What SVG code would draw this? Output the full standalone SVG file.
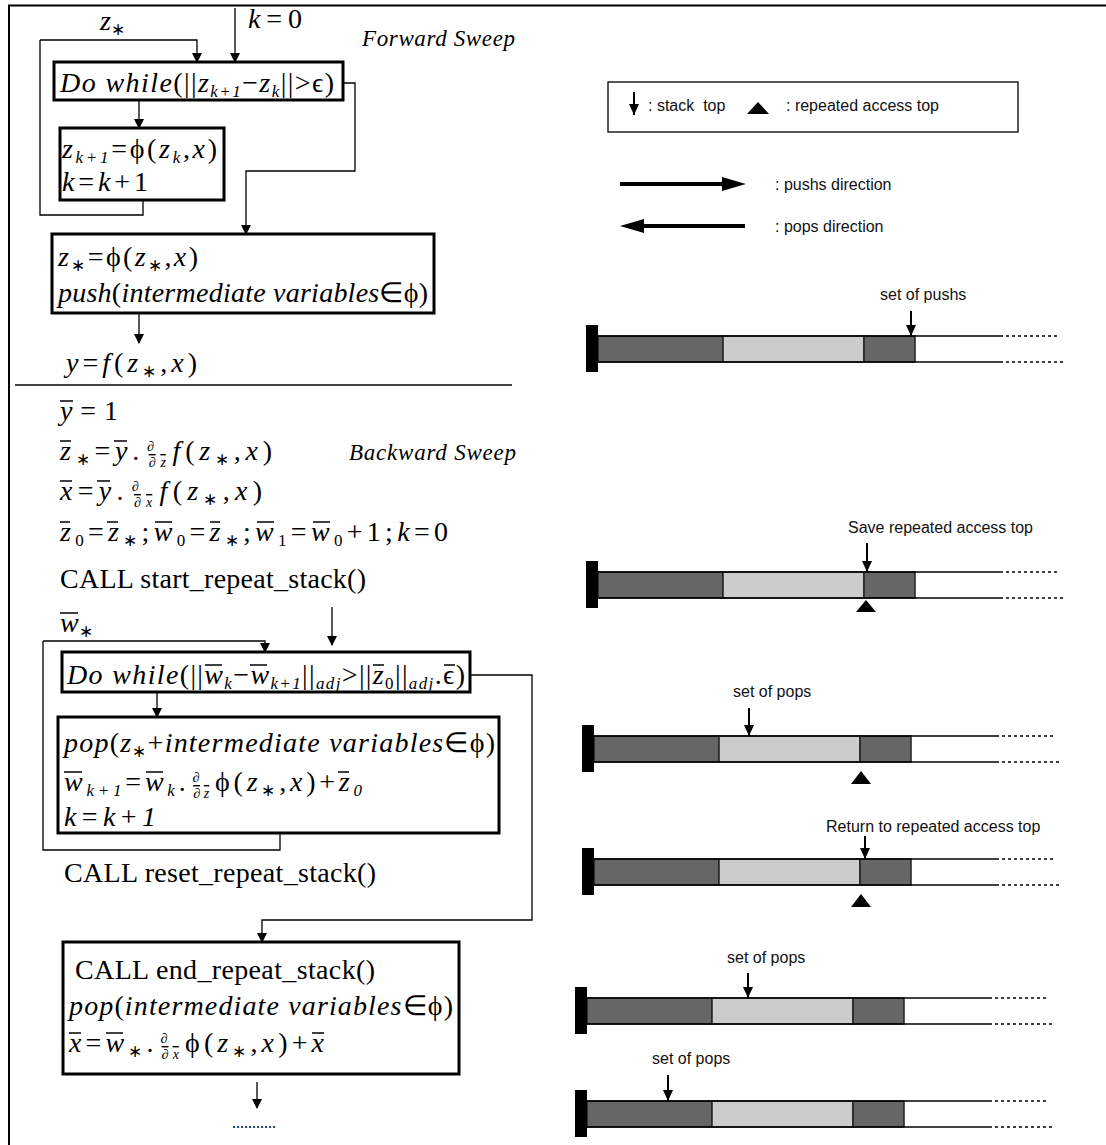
<svg xmlns="http://www.w3.org/2000/svg" xmlns:xlink="http://www.w3.org/1999/xlink" width="1106" height="1145" viewBox="0 0 1106 1145">
<style>
.m{font-family:"Liberation Serif",serif;font-style:italic;font-size:28px;fill:#000}
.u{font-style:normal}
.sb{font-size:17px}
.fr{font-size:14px}
.r{font-family:"Liberation Serif",serif;font-size:28px;fill:#000}
.sw{font-family:"Liberation Serif",serif;font-style:italic;font-size:23px}
.s{font-family:"Liberation Sans",Arial,sans-serif;font-size:16px;fill:#111}
.fb{text-decoration:overline}
.ol{stroke:#000;stroke-width:1.5}
.box{fill:#fff;stroke:#000;stroke-width:3}
.ln{fill:none;stroke:#000;stroke-width:1.3}
.ar{fill:none;stroke:#000;stroke-width:1.3;marker-end:url(#ah)}
.sa{fill:none;stroke:#000;stroke-width:2;marker-end:url(#sah)}
.dk{fill:#666;stroke:#222;stroke-width:1.5}
.lt{fill:#ccc;stroke:#222;stroke-width:1.5}
.bl{stroke:#000;stroke-width:1.5}
.dt{stroke:#000;stroke-width:1.5;stroke-dasharray:3 3}
</style>
<defs>
<marker id="ah" markerUnits="userSpaceOnUse" markerWidth="10" markerHeight="12" refX="9" refY="5" orient="auto"><path d="M0,0 L10,5 L0,10 Z" fill="#000"/></marker>
<marker id="sah" markerUnits="userSpaceOnUse" markerWidth="12" markerHeight="12" refX="11" refY="5" orient="auto"><path d="M0,0 L11,5 L0,10 Z" fill="#000"/></marker>
<marker id="bah" markerUnits="userSpaceOnUse" markerWidth="24" markerHeight="14" refX="2" refY="7" orient="auto"><path d="M0,0 L24,7 L0,14 Z" fill="#000"/></marker>
<g id="stk">
<rect class="dk" x="0" y="0" width="125" height="26"/>
<rect class="lt" x="125" y="0" width="141" height="26"/>
<rect class="dk" x="266" y="0" width="51" height="26"/>
<line class="bl" x1="0" y1="0" x2="405" y2="0"/>
<line class="bl" x1="0" y1="26" x2="405" y2="26"/>
<line class="dt" x1="408" y1="0" x2="462" y2="0"/>
<line class="dt" x1="408" y1="26" x2="466" y2="26"/>
<rect x="-12" y="-11" width="12" height="47" fill="#000"/>
</g>
</defs>
<rect width="1106" height="1145" fill="#fff"/>
<path d="M9,1145 V5.5 H1106" fill="none" stroke="#000" stroke-width="2"/>
<line x1="15" y1="385" x2="512" y2="385" stroke="#000" stroke-width="1.5"/>

<g id="connectors">
<path class="ar" d="M235,8 V62"/>
<path class="ar" d="M40,40 H197 V62"/>
<path class="ln" d="M143,200 V215 H40 V40"/>
<path class="ar" d="M139,100 V128"/>
<path class="ar" d="M343,83 H355 V171 H246 V234"/>
<path class="ar" d="M139,313 V343"/>
<path class="ar" d="M332,607 V645"/>
<path class="ar" d="M43,641 H265 V652"/>
<path class="ln" d="M280,833 V850 H43 V641"/>
<path class="ar" d="M157,692 V717"/>
<path class="ar" d="M470,675 H532 V920 H262 V942"/>
<path class="ar" d="M257,1082 V1108"/>
</g>

<g id="fwd-labels">
<text class="m" x="100" y="30">z<tspan class="sb u" dy="5">∗</tspan></text>
<text class="m" x="248" y="28" textLength="54">k<tspan class="u">=0</tspan></text>
<text class="sw" x="362" y="46" textLength="153">Forward Sweep</text>
</g>

<g id="n-dowhile1">
<rect class="box" x="54" y="62" width="289" height="38"/>
<text class="m" x="60" y="92" textLength="274">Do while<tspan class="u">(||</tspan>z<tspan class="sb" dy="5">k+1</tspan><tspan class="u" dy="-5">−</tspan>z<tspan class="sb" dy="5">k</tspan><tspan class="u" dy="-5">||&gt;ϵ)</tspan></text>
</g>

<g id="n-iter">
<rect class="box" x="60" y="128" width="164" height="72"/>
<text class="m" x="62" y="158" textLength="155">z<tspan class="sb" dy="5">k+1</tspan><tspan class="u" dy="-5">=ϕ(</tspan>z<tspan class="sb" dy="5">k</tspan><tspan class="u" dy="-5">,</tspan>x<tspan class="u">)</tspan></text>
<text class="m" x="62" y="191" textLength="86">k<tspan class="u">=</tspan>k<tspan class="u">+1</tspan></text>
</g>

<g id="n-push">
<rect class="box" x="52" y="234" width="382" height="79"/>
<text class="m" x="58" y="266" textLength="140">z<tspan class="sb u" dy="5">∗</tspan><tspan class="u" dy="-5">=ϕ(</tspan>z<tspan class="sb u" dy="5">∗</tspan><tspan class="u" dy="-5">,</tspan>x<tspan class="u">)</tspan></text>
<text class="m" x="58" y="302" textLength="370">push<tspan class="u">(</tspan>intermediate variables<tspan class="u">∈ϕ)</tspan></text>
</g>

<g id="n-y">
<text class="m" x="66" y="372" textLength="131">y<tspan class="u">=</tspan>f<tspan class="u">(</tspan>z<tspan class="sb u" dy="5">∗</tspan><tspan class="u" dy="-5">,</tspan>x<tspan class="u">)</tspan></text>
</g>

<g id="bwd-init">
<text class="m" x="60" y="420" textLength="58">y<tspan class="u">=1</tspan></text>
<text class="m" x="60" y="460" textLength="212">z<tspan class="sb u" dy="5">∗</tspan><tspan class="u" dy="-5">=</tspan>y<tspan class="u">.</tspan><tspan class="fr" dx="3" dy="-9">∂</tspan><tspan class="fr fb" dx="-10" dy="16">∂z</tspan><tspan dx="2" dy="-7">f</tspan><tspan class="u">(</tspan>z<tspan class="sb u" dy="5">∗</tspan><tspan class="u" dy="-5">,</tspan>x<tspan class="u">)</tspan></text>
<text class="sw" x="349" y="460" textLength="167">Backward Sweep</text>
<text class="m" x="60" y="500" textLength="202">x<tspan class="u">=</tspan>y<tspan class="u">.</tspan><tspan class="fr" dx="3" dy="-9">∂</tspan><tspan class="fr fb" dx="-10" dy="16">∂x</tspan><tspan dx="2" dy="-7">f</tspan><tspan class="u">(</tspan>z<tspan class="sb u" dy="5">∗</tspan><tspan class="u" dy="-5">,</tspan>x<tspan class="u">)</tspan></text>
<text class="m" x="60" y="541" textLength="388">z<tspan class="sb u" dy="5">0</tspan><tspan class="u" dy="-5">=</tspan>z<tspan class="sb u" dy="5">∗</tspan><tspan class="u" dy="-5">;</tspan>w<tspan class="sb u" dy="5">0</tspan><tspan class="u" dy="-5">=</tspan>z<tspan class="sb u" dy="5">∗</tspan><tspan class="u" dy="-5">;</tspan>w<tspan class="sb u" dy="5">1</tspan><tspan class="u" dy="-5">=</tspan>w<tspan class="sb u" dy="5">0</tspan><tspan class="u" dy="-5">+1;</tspan>k<tspan class="u">=0</tspan></text>
<text class="r" x="60" y="588" textLength="306">CALL start_repeat_stack()</text>
<text class="m" x="60" y="632">w<tspan class="sb u" dy="5">∗</tspan></text>
<g id="overlines-init">
<line class="ol" x1="60" y1="401" x2="73" y2="401"/>
<line class="ol" x1="60" y1="441" x2="71" y2="441"/>
<line class="ol" x1="114" y1="441" x2="127" y2="441"/>
<line class="ol" x1="60" y1="481" x2="72" y2="481"/>
<line class="ol" x1="97" y1="481" x2="110" y2="481"/>
<line class="ol" x1="60" y1="522" x2="70" y2="522"/>
<line class="ol" x1="107" y1="522" x2="118" y2="522"/>
<line class="ol" x1="155" y1="522" x2="172" y2="522"/>
<line class="ol" x1="210" y1="522" x2="220" y2="522"/>
<line class="ol" x1="257" y1="522" x2="274" y2="522"/>
<line class="ol" x1="313" y1="522" x2="330" y2="522"/>
<line class="ol" x1="60" y1="613" x2="78" y2="613"/>
</g>
</g>

<g id="n-dowhile2">
<rect class="box" x="62" y="652" width="408" height="40"/>
<text class="m" x="67" y="684" textLength="398">Do while<tspan class="u">(||</tspan>w<tspan class="sb" dy="5">k</tspan><tspan class="u" dy="-5">−</tspan>w<tspan class="sb" dy="5">k+1</tspan><tspan class="u" dy="-5">||</tspan><tspan class="sb" dy="5">adj</tspan><tspan class="u" dy="-5">&gt;||</tspan>z<tspan class="sb u" dy="5">0</tspan><tspan class="u" dy="-5">||</tspan><tspan class="sb" dy="5">adj</tspan><tspan class="u" dy="-5">.ϵ)</tspan></text>
<line class="ol" x1="205" y1="665" x2="222" y2="665"/>
<line class="ol" x1="250" y1="665" x2="267" y2="665"/>
<line class="ol" x1="373" y1="665" x2="384" y2="665"/>
<line class="ol" x1="444" y1="665" x2="455" y2="665"/>
</g>

<g id="n-pop1">
<rect class="box" x="58" y="717" width="441" height="116"/>
<text class="m" x="64" y="752" textLength="431">pop<tspan class="u">(</tspan>z<tspan class="sb u" dy="5">∗</tspan><tspan class="u" dy="-5">+</tspan>intermediate variables<tspan class="u">∈ϕ)</tspan></text>
<text class="m" x="64" y="791" textLength="298">w<tspan class="sb" dy="5">k+1</tspan><tspan class="u" dy="-5">=</tspan>w<tspan class="sb" dy="5">k</tspan><tspan class="u" dy="-5">.</tspan><tspan class="fr" dx="3" dy="-9">∂</tspan><tspan class="fr fb" dx="-10" dy="16">∂z</tspan><tspan class="u" dx="2" dy="-7">ϕ(</tspan>z<tspan class="sb u" dy="5">∗</tspan><tspan class="u" dy="-5">,</tspan>x<tspan class="u">)+</tspan>z<tspan class="sb" dy="5">0</tspan></text>
<text class="m" x="64" y="826" textLength="92">k<tspan class="u">=</tspan>k<tspan class="u">+</tspan>1</text>
<line class="ol" x1="64" y1="772" x2="82" y2="772"/>
<line class="ol" x1="146" y1="772" x2="163" y2="772"/>
<line class="ol" x1="338" y1="772" x2="349" y2="772"/>
</g>

<g id="n-reset">
<text class="r" x="64" y="882" textLength="312">CALL reset_repeat_stack()</text>
</g>

<g id="n-end">
<rect class="box" x="63" y="942" width="396" height="132"/>
<text class="r" x="75" y="979" textLength="300">CALL end_repeat_stack()</text>
<text class="m" x="69" y="1015" textLength="384">pop<tspan class="u">(</tspan>intermediate variables<tspan class="u">∈ϕ)</tspan></text>
<text class="m" x="69" y="1052" textLength="255">x<tspan class="u">=</tspan>w<tspan class="sb u" dy="5">∗</tspan><tspan class="u" dy="-5">.</tspan><tspan class="fr" dx="3" dy="-9">∂</tspan><tspan class="fr fb" dx="-10" dy="16">∂x</tspan><tspan class="u" dx="2" dy="-7">ϕ(</tspan>z<tspan class="sb u" dy="5">∗</tspan><tspan class="u" dy="-5">,</tspan>x<tspan class="u">)+</tspan>x</text>
<line class="ol" x1="69" y1="1033" x2="81" y2="1033"/>
<line class="ol" x1="106" y1="1033" x2="123" y2="1033"/>
<line class="ol" x1="312" y1="1033" x2="324" y2="1033"/>
<text class="r" x="232" y="1128" style="font-size:16px" textLength="44">...........</text>
</g>

<g id="legend">
<rect x="608" y="82" width="410" height="50" fill="none" stroke="#000" stroke-width="1.3"/>
<path class="sa" d="M634,92 V115"/>
<text class="s" x="648" y="111" xml:space="preserve">: stack  top</text>
<path d="M747,114 L758,102 L769,114 Z" fill="#000"/>
<text class="s" x="786" y="111">: repeated access top</text>
<line x1="620" y1="184" x2="724" y2="184" stroke="#000" stroke-width="4" marker-end="url(#bah)"/>
<text class="s" x="775" y="190">: pushs direction</text>
<line x1="745" y1="226" x2="642" y2="226" stroke="#000" stroke-width="4" marker-end="url(#bah)"/>
<text class="s" x="775" y="232">: pops direction</text>
</g>

<g id="stack1">
<use xlink:href="#stk" x="598" y="336"/>
<path class="sa" d="M911,311 V336"/>
<text class="s" x="880" y="300">set of pushs</text>
</g>
<g id="stack2">
<use xlink:href="#stk" x="598" y="572"/>
<path class="sa" d="M867,543 V572"/>
<text class="s" x="848" y="533">Save repeated access top</text>
<path d="M856,612 L866,600 L876,612 Z" fill="#000"/>
</g>
<g id="stack3">
<use xlink:href="#stk" x="594" y="736"/>
<path class="sa" d="M749,708 V736"/>
<text class="s" x="733" y="697">set of pops</text>
<path d="M851,784 L861,771 L871,784 Z" fill="#000"/>
</g>
<g id="stack4">
<use xlink:href="#stk" x="594" y="859"/>
<path class="sa" d="M865,836 V859"/>
<text class="s" x="826" y="832">Return to repeated access top</text>
<path d="M851,907 L861,894 L871,907 Z" fill="#000"/>
</g>
<g id="stack5">
<use xlink:href="#stk" x="587" y="998"/>
<path class="sa" d="M748,973 V998"/>
<text class="s" x="727" y="963">set of pops</text>
</g>
<g id="stack6">
<use xlink:href="#stk" x="587" y="1101"/>
<path class="sa" d="M668,1075 V1101"/>
<text class="s" x="652" y="1064">set of pops</text>
</g>
</svg>
